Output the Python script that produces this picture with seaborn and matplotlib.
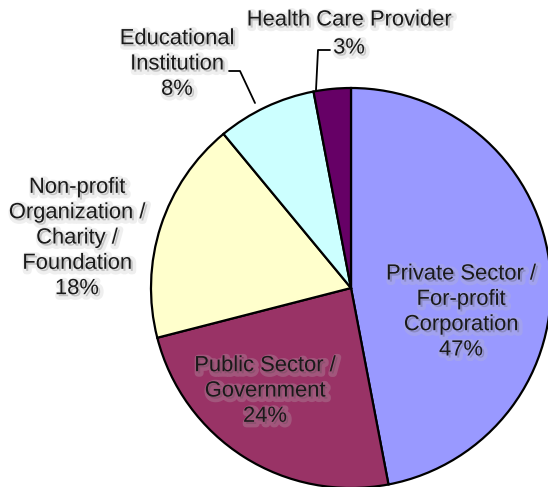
import matplotlib
matplotlib.use("Agg")
import matplotlib.pyplot as plt
import matplotlib.patheffects as pe
import seaborn as sns

sns.set_style("white")
plt.rcParams['font.family'] = ['Liberation Sans', 'DejaVu Sans']

categories = ["Private Sector /\nFor-profit\nCorporation", "Public Sector /\nGovernment",
              "Non-profit\nOrganization /\nCharity /\nFoundation", "Educational\nInstitution",
              "Health Care Provider"]
values = [47, 24, 18, 8, 3]
colors = ["#9999FF", "#993366", "#FFFFCC", "#CCFFFF", "#660066"]

W, H = 548, 487
fig = plt.figure(figsize=(W / 100, H / 100), dpi=100)
ax = fig.add_axes([0, 0, 1, 1])

cx, cy, R = 351, H - 288, 200
ax.pie(values, colors=colors, startangle=90, counterclock=False, center=(cx, cy), radius=R,
       wedgeprops=dict(edgecolor="black", linewidth=1.6), frame=True)
ax.set_xlim(0, W)
ax.set_ylim(0, H)
ax.set_aspect("equal")
ax.axis("off")

fx = [pe.Stroke(linewidth=5, foreground="#c0c0c0", alpha=0.25, offset=(1.5, -1.5)), pe.Normal()]

def lab(x, y, s):
    ax.text(x, H - y, s, ha="center", va="center", fontsize=15.8, color="#1a1a1a",
            linespacing=1.27, path_effects=fx)

pct = [f"{v}%" for v in values]
lab(461, 312, f"{categories[0]}\n{pct[0]}")
lab(265, 391, f"{categories[1]}\n{pct[1]}")
lab(77, 238, f"{categories[2]}\n{pct[2]}")
lab(177, 64, f"{categories[3]}\n{pct[3]}")
lab(349, 20, categories[4])
lab(349, 48, pct[4])

# leader lines
ax.plot([330, 318, 316], [H - 50, H - 50, H - 90], color="black", lw=1.3)
ax.plot([229, 240, 255], [H - 71, H - 71, H - 103], color="black", lw=1.3)

fig.savefig("out.png", dpi=100)
